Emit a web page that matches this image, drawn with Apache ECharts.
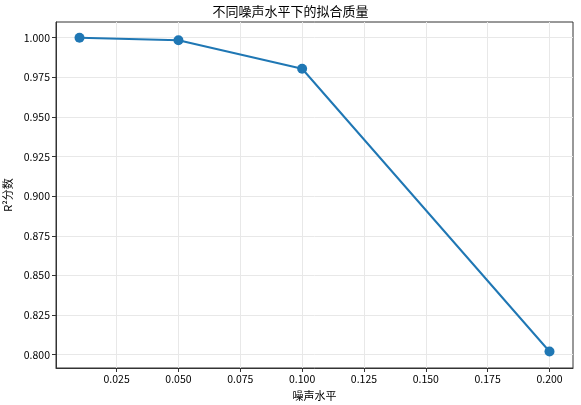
<!DOCTYPE html>
<html>
<head>
<meta charset="utf-8">
<script src="https://cdn.jsdelivr.net/npm/echarts@6/dist/echarts.min.js"></script>
<style>
  html, body { margin: 0; padding: 0; background: #fff; }
  #main { width: 581px; height: 405px; }
</style>
</head>
<body>
<div id="main"></div>
<script>
// 数据
var noiseLevels = [0.01, 0.05, 0.1, 0.2];
var r2Scores = [1.0, 0.9984, 0.9804, 0.8020];
var xTicks = [0.025, 0.05, 0.075, 0.1, 0.125, 0.15, 0.175, 0.2];
var yTicks = [0.8, 0.825, 0.85, 0.875, 0.9, 0.925, 0.95, 0.975, 1.0];

var font = '"Noto Sans CJK SC", "DejaVu Sans", sans-serif';
var myChart = echarts.init(document.getElementById('main'));
var option = {
  animation: false,
  backgroundColor: '#fff',
  title: {
    text: '不同噪声水平下的拟合质量',
    left: 'center',
    top: 0,
    textStyle: { fontFamily: font, fontSize: 13, fontWeight: 'normal', color: '#000' }
  },
  grid: {
    left: 56,
    right: 8,
    top: 22,
    bottom: 37,
    outerBoundsMode: 'none', // 不自动收缩网格
    containLabel: false,
    show: true,
    borderColor: '#333',
    borderWidth: 1
  },
  xAxis: {
    type: 'value',
    min: 0.0005,
    max: 0.2095,
    name: '噪声水平',
    nameLocation: 'middle',
    nameGap: 22,
    nameTextStyle: { fontFamily: font, fontSize: 11, color: '#000' },
    axisLine: { show: true, lineStyle: { color: '#333' } },
    axisTick: { show: true, length: 4, customValues: xTicks, lineStyle: { color: '#333' } },
    axisLabel: {
      customValues: xTicks,
      fontFamily: font, fontSize: 10.5, color: '#000', margin: 6,
      formatter: function (v) { return v.toFixed(3); }
    },
    splitLine: { show: true, lineStyle: { color: '#e8e8e8', width: 1 } }
  },
  yAxis: {
    type: 'value',
    min: 0.7916,
    max: 1.0099,
    name: 'R²分数',
    nameLocation: 'middle',
    nameGap: 41,
    nameTextStyle: { fontFamily: font, fontSize: 11, color: '#000' },
    axisLine: { show: true, lineStyle: { color: '#333' } },
    axisTick: { show: true, length: 4, customValues: yTicks, lineStyle: { color: '#333' } },
    axisLabel: {
      customValues: yTicks,
      fontFamily: font, fontSize: 10.5, color: '#000', margin: 6,
      formatter: function (v) { return v.toFixed(3); }
    },
    splitLine: { show: true, lineStyle: { color: '#e8e8e8', width: 1 } }
  },
  series: [{
    type: 'line',
    data: noiseLevels.map(function (x, i) { return [x, r2Scores[i]]; }),
    symbol: 'circle',
    symbolSize: 10,
    itemStyle: { color: '#1f77b4' },
    lineStyle: { color: '#1f77b4', width: 2 }
  }]
};
myChart.setOption(option);
</script>
</body>
</html>
